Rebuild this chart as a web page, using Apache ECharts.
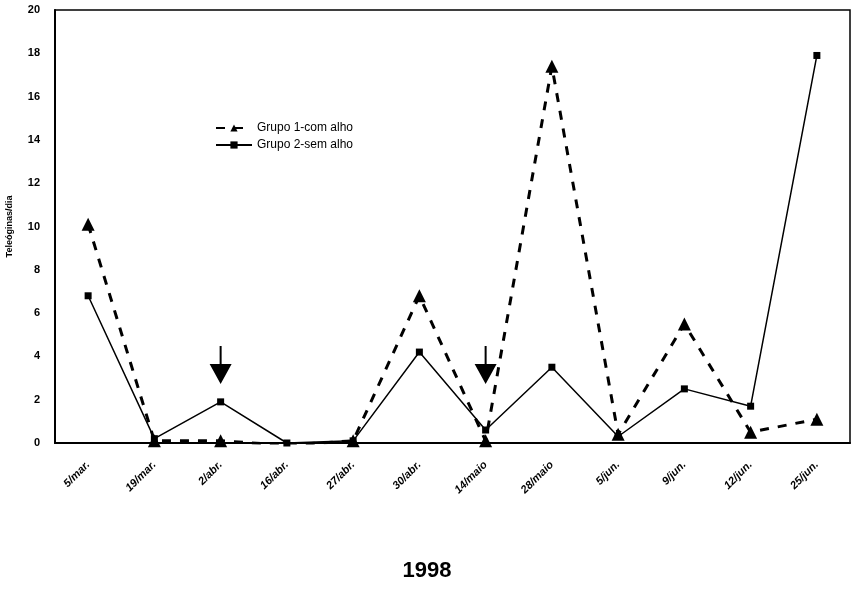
<!DOCTYPE html>
<html>
<head>
<meta charset="utf-8">
<script src="https://cdn.jsdelivr.net/npm/echarts@6/dist/echarts.min.js"></script>
<style>
  html, body { margin: 0; padding: 0; background: #fff; }
  #chart { width: 854px; height: 600px; }
</style>
</head>
<body>
<div id="chart"></div>
<script>
// categorias (datas de coleta)
var categories = ['5/mar.', '19/mar.', '2/abr.', '16/abr.', '27/abr.', '30/abr.',
    '14/maio', '28/maio', '5/jun.', '9/jun.', '12/jun.', '25/jun.'];

// teleóginas/dia
var grupo1 = [10.1, 0.1, 0.1, -0.1, 0.1, 6.8, 0.1, 17.4, 0.4, 5.5, 0.5, 1.1];
var grupo2 = [6.8, 0.2, 1.9, 0.0, 0.1, 4.2, 0.6, 3.5, 0.3, 2.5, 1.7, 17.9];

// setas (tratamentos)
var arrowCats = ['2/abr.', '14/maio'];
var arrowVals = [3.6, 3.6];

var yTicks = [0, 2, 4, 6, 8, 10, 12, 14, 16, 18, 20];

var myChart = echarts.init(document.getElementById('chart'));

var option = {
    backgroundColor: '#fff',
    animation: false,
    title: {
        text: '1998',
        left: 'center',
        top: 555,
        textStyle: {fontFamily: 'Liberation Sans', fontSize: 22, fontWeight: 'bold', color: '#000'}
    },
    legend: {
        orient: 'vertical',
        left: 210,
        top: 117,
        itemWidth: 36,
        itemHeight: 9,
        itemGap: 5,
        textStyle: {fontFamily: 'Liberation Sans', fontSize: 12, color: '#000'},
        data: ['Grupo 1-com alho', 'Grupo 2-sem alho']
    },
    grid: {
        left: 55,
        right: 4,
        top: 10,
        bottom: 157,
        outerBoundsMode: 'none',
        show: true,
        borderColor: '#000',
        borderWidth: 1.5
    },
    xAxis: {
        type: 'category',
        data: categories,
        boundaryGap: true,
        axisLine: {lineStyle: {color: '#000', width: 2}},
        axisTick: {show: false},
        axisLabel: {
            rotate: 45,
            margin: 20,
            fontFamily: 'Liberation Sans',
            fontSize: 11,
            fontWeight: 'bold',
            fontStyle: 'italic',
            color: '#000'
        }
    },
    yAxis: {
        type: 'value',
        min: 0,
        max: 20,
        interval: 2,
        name: 'Teleóginas/dia',
        nameLocation: 'middle',
        nameGap: 41,
        nameTextStyle: {fontFamily: 'Liberation Sans', fontSize: 9, fontWeight: 'bold', color: '#000'},
        axisLine: {show: true, lineStyle: {color: '#000', width: 2}},
        axisTick: {show: false},
        splitLine: {show: false},
        axisLabel: {
            margin: 15,
            fontFamily: 'Liberation Sans',
            fontSize: 11,
            fontWeight: 'bold',
            color: '#000',
            formatter: function (v) { return yTicks.indexOf(v) >= 0 ? String(v) : ''; }
        }
    },
    series: [
        {
            name: 'Grupo 1-com alho',
            type: 'line',
            data: grupo1,
            symbol: 'triangle',
            symbolSize: 13,
            itemStyle: {color: '#000'},
            lineStyle: {color: '#000', width: 3, type: [9, 9]},
            z: 3
        },
        {
            name: 'Grupo 2-sem alho',
            type: 'line',
            data: grupo2,
            symbol: 'rect',
            symbolSize: 7,
            itemStyle: {color: '#000'},
            lineStyle: {color: '#000', width: 1.5},
            z: 4
        },
        {
            name: 'setas',
            type: 'scatter',
            data: arrowCats.map(function (c, i) { return [c, arrowVals[i]]; }),
            symbol: 'path://M10,0 L12,0 L12,18 L22,18 L11,38 L0,18 L10,18 Z',
            symbolSize: [22, 38],
            itemStyle: {color: '#000', opacity: 1},
            silent: true,
            z: 5
        }
    ]
};

myChart.setOption(option);
</script>
</body>
</html>
